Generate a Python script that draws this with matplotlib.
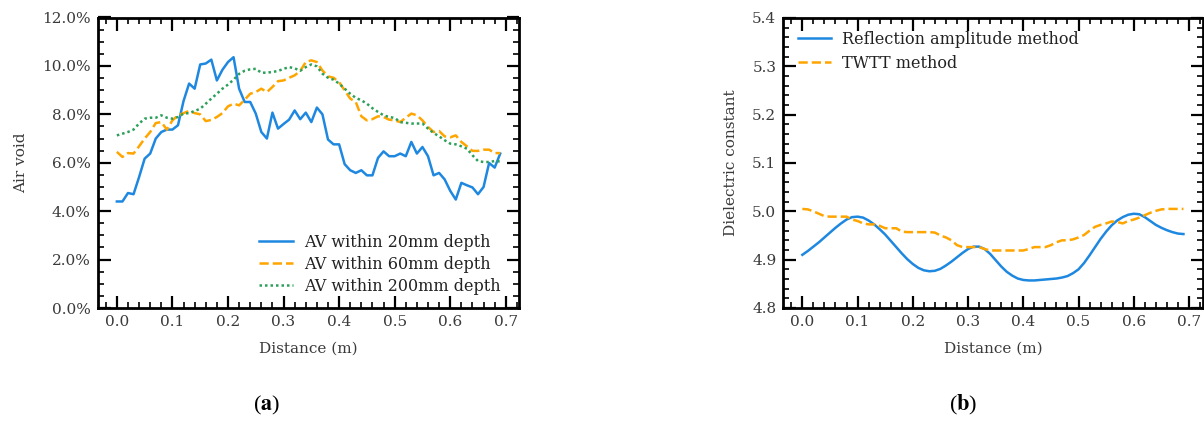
import numpy as np
import matplotlib
matplotlib.use("Agg")
import matplotlib.pyplot as plt
from matplotlib.ticker import MultipleLocator, PercentFormatter, FormatStrFormatter

# ---------------- data ----------------
distance_a = [round(0.01 * i, 2) for i in range(70)]
av_20mm = [4.40, 4.40, 4.75, 4.70, 5.41, 6.17, 6.38, 7.00, 7.27, 7.37,
           7.37, 7.55, 8.55, 9.27, 9.06, 10.06, 10.10, 10.26, 9.40, 9.84,
           10.16, 10.36, 9.06, 8.51, 8.51, 8.03, 7.27, 7.00, 8.07, 7.41,
           7.60, 7.78, 8.16, 7.80, 8.07, 7.68, 8.28, 8.00, 6.96, 6.76,
           6.76, 5.94, 5.69, 5.58, 5.69, 5.48, 5.48, 6.20, 6.47, 6.27,
           6.27, 6.38, 6.27, 6.86, 6.38, 6.65, 6.27, 5.48, 5.58, 5.31,
           4.84, 4.48, 5.17, 5.07, 4.98, 4.70, 5.00, 5.99, 5.80, 6.38]
av_60mm = [6.45, 6.24, 6.40, 6.38, 6.68, 7.00, 7.27, 7.64, 7.68, 7.37,
           7.75, 7.96, 8.05, 8.14, 8.05, 8.00, 7.72, 7.77, 7.89, 8.05,
           8.33, 8.44, 8.37, 8.60, 8.85, 8.92, 9.06, 8.92, 9.13, 9.37,
           9.40, 9.51, 9.61, 9.79, 10.16, 10.23, 10.16, 9.81, 9.57, 9.51,
           9.33, 8.99, 8.65, 8.51, 7.92, 7.75, 7.80, 7.92, 7.89, 7.78,
           7.75, 7.68, 7.86, 8.03, 7.96, 7.75, 7.48, 7.27, 7.31, 7.09,
           7.05, 7.13, 6.86, 6.68, 6.49, 6.49, 6.54, 6.54, 6.40, 6.40]
av_200mm = [7.13, 7.20, 7.27, 7.37, 7.62, 7.82, 7.86, 7.86, 7.96, 7.86,
            7.82, 7.89, 8.03, 8.05, 8.14, 8.23, 8.44, 8.65, 8.85, 9.06,
            9.23, 9.43, 9.67, 9.80, 9.86, 9.88, 9.72, 9.72, 9.75, 9.79,
            9.88, 9.95, 9.90, 9.80, 9.95, 10.06, 9.98, 9.68, 9.51, 9.43,
            9.27, 9.06, 8.85, 8.68, 8.58, 8.44, 8.25, 8.10, 7.96, 7.89,
            7.85, 7.68, 7.65, 7.62, 7.62, 7.62, 7.41, 7.23, 7.09, 6.93,
            6.79, 6.76, 6.68, 6.58, 6.31, 6.07, 6.03, 6.03, 6.07, 6.05]

distance_b = [round(0.01 * i, 2) for i in range(70)]
reflection_amp = [4.910, 4.918, 4.927, 4.936, 4.946, 4.956, 4.966, 4.975, 4.983, 4.988,
                  4.989, 4.987, 4.981, 4.973, 4.963, 4.952, 4.939, 4.926, 4.913, 4.901,
                  4.891, 4.883, 4.878, 4.876, 4.877, 4.881, 4.888, 4.896, 4.905, 4.914,
                  4.922, 4.927, 4.927, 4.922, 4.912, 4.899, 4.886, 4.875, 4.867, 4.861,
                  4.858, 4.857, 4.857, 4.858, 4.859, 4.860, 4.861, 4.863, 4.866, 4.872,
                  4.880, 4.893, 4.909, 4.926, 4.943, 4.958, 4.971, 4.981, 4.988, 4.993,
                  4.995, 4.994, 4.988, 4.980, 4.972, 4.966, 4.961, 4.957, 4.954, 4.953]
twtt = [5.005, 5.004, 5.000, 4.995, 4.990, 4.989, 4.989, 4.989, 4.989, 4.983,
        4.980, 4.975, 4.973, 4.973, 4.970, 4.965, 4.965, 4.965, 4.958, 4.957,
        4.957, 4.957, 4.957, 4.957, 4.956, 4.950, 4.946, 4.940, 4.930, 4.926,
        4.926, 4.926, 4.926, 4.922, 4.919, 4.919, 4.919, 4.919, 4.919, 4.919,
        4.919, 4.922, 4.926, 4.926, 4.926, 4.930, 4.936, 4.940, 4.940, 4.942,
        4.946, 4.951, 4.960, 4.968, 4.972, 4.975, 4.979, 4.978, 4.975, 4.980,
        4.983, 4.987, 4.992, 4.997, 5.001, 5.004, 5.005, 5.005, 5.005, 5.005]

labels_a = ["AV within 20mm depth", "AV within 60mm depth", "AV within 200mm depth"]
labels_b = ["Reflection amplitude method", "TWTT method"]

# ---------------- style ----------------
plt.rcParams['font.family'] = ['DejaVu Serif']
plt.rcParams['font.size'] = 11
plt.rcParams['mathtext.fontset'] = 'stix'
TXT = '#3a3a3a'
BLUE = '#1e88e0'
ORANGE = '#ffa500'
GREEN = '#2ca05a'

fig = plt.figure(figsize=(12.04, 4.21), dpi=100)
W, H = 1204, 421

def place(l, r, t, b):
    return fig.add_axes([l / W, 1 - b / H, (r - l) / W, (b - t) / H])

ax1 = place(97.7, 519.4, 17.5, 308)
ax2 = place(783.3, 1202.5, 18, 308)

def style(ax):
    for s in ax.spines.values():
        s.set_linewidth(2.0)
        s.set_color('black')
    ax.tick_params(which='both', direction='in', top=True, right=True,
                   colors='black', labelcolor=TXT, labelsize=11)
    ax.tick_params(which='major', length=9, width=1.6, pad=5)
    ax.tick_params(which='minor', length=4.5, width=1.2)
    ax.xaxis.set_major_locator(MultipleLocator(0.1))
    ax.xaxis.set_minor_locator(MultipleLocator(0.02))

# ---- (a)
x_a = np.array(distance_a)
ax1.plot(x_a, np.array(av_20mm) / 100, color=BLUE, lw=1.8, ls='-', label=labels_a[0])
ax1.plot(x_a, np.array(av_60mm) / 100, color=ORANGE, lw=1.8, ls='--', label=labels_a[1])
ax1.plot(x_a, np.array(av_200mm) / 100, color=GREEN, lw=1.8, ls=(0, (1, 1.2)), label=labels_a[2])
ax1.set_ylim(0, 0.12)
style(ax1)
ax1.yaxis.set_major_locator(MultipleLocator(0.02))
ax1.yaxis.set_minor_locator(MultipleLocator(0.005))
ax1.yaxis.set_major_formatter(PercentFormatter(1.0, decimals=1))
ax1.set_xlabel("Distance (m)", color=TXT, fontsize=11, labelpad=9)
ax1.set_ylabel("Air void", color=TXT, fontsize=11, labelpad=10)
leg1 = ax1.legend(loc='lower right', frameon=False, fontsize=11.5, handlelength=2.1,
                  handletextpad=0.7, labelspacing=0.33, borderaxespad=0.5,
                  bbox_to_anchor=(0.99, -0.005))
for t in leg1.get_texts():
    t.set_color('#222222')

# ---- (b)
x_b = np.array(distance_b)
ax2.plot(x_b, reflection_amp, color=BLUE, lw=1.8, ls='-', label=labels_b[0])
ax2.plot(x_b, twtt, color=ORANGE, lw=1.8, ls='--', label=labels_b[1])
ax2.set_ylim(4.8, 5.4)
style(ax2)
ax2.yaxis.set_major_locator(MultipleLocator(0.1))
ax2.yaxis.set_minor_locator(MultipleLocator(0.02))
ax2.yaxis.set_major_formatter(FormatStrFormatter('%.1f'))
ax2.set_xlabel("Distance (m)", color=TXT, fontsize=11, labelpad=9)
ax2.set_ylabel("Dielectric constant", color=TXT, fontsize=11, labelpad=10)
leg2 = ax2.legend(loc='upper left', frameon=False, fontsize=11.5, handlelength=2.1,
                  handletextpad=0.7, labelspacing=0.42, borderaxespad=0.5,
                  bbox_to_anchor=(0.0, 1.005))
for t in leg2.get_texts():
    t.set_color('#222222')

# sub-figure labels
fig.text(267 / W, 1 - 405 / H, r"($\mathbf{a}$)", ha='center', va='center',
         fontsize=16, family='Liberation Serif')
fig.text(963 / W, 1 - 405 / H, r"($\mathbf{b}$)", ha='center', va='center',
         fontsize=16, family='Liberation Serif')

fig.savefig("out.png", dpi=100)
